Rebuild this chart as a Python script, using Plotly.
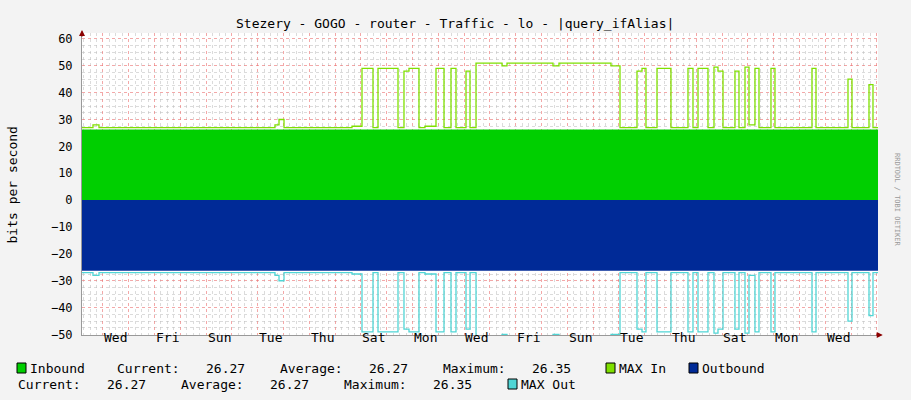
import plotly.graph_objects as go

# Day 0 = Wednesday (midnight); x in days
x_start, x_end = -0.81, 30.043
day_labels = ["Wed", "Fri", "Sun", "Tue", "Thu", "Sat", "Mon", "Wed",
              "Fri", "Sun", "Tue", "Thu", "Sat", "Mon", "Wed"]
label_pos = [0.5 + 2 * i for i in range(len(day_labels))]

# MAX In step changes (time in days, value held until next time)
max_t = [-0.81, -0.384, -0.151, 6.67, 6.826, 7.02, 9.655, 10.043, 10.469, 10.663,
         11.438, 11.67, 11.864, 12.252, 12.484, 12.911, 13.221, 13.492, 13.686,
         14.074, 14.229, 14.462, 15.47, 15.663, 17.446, 17.678, 19.694, 20.043,
         20.702, 20.896, 21.05, 21.477, 22.019, 22.678, 22.872, 23.066, 23.453,
         23.686, 23.841, 24.035, 24.5, 24.655, 24.888, 25.043, 25.275, 25.43,
         25.895, 26.05, 27.484, 27.64, 28.88, 29.035, 29.694, 29.849, 30.043]
max_in = [27, 28, 27, 28, 30, 27, 27.5, 49, 27, 49,
          27, 48, 49, 27, 27.5, 49, 27, 49, 27,
          48, 27, 51, 50, 51, 50, 51, 50, 27,
          48, 49, 27, 49, 27, 49, 27, 49, 27,
          49.5, 48, 27, 48, 27, 49.5, 28, 49, 27,
          49, 27, 49, 27, 45, 27, 43, 27, 27]

inbound_t = [-0.81, 30.043]
inbound = [26.3, 26.3]
outbound = [-v for v in inbound]
max_out = [-v for v in max_in]

mono = "DejaVu Sans Mono"
C_IN, C_MAXIN, C_OUT, C_MAXOUT = "#00CF00", "#7FE000", "#002A97", "#50D5D5"

fig = go.Figure()
fig.add_trace(go.Scatter(x=inbound_t, y=inbound, mode="lines", line=dict(width=0, shape="hv"),
                         fill="tozeroy", fillcolor=C_IN, hoverinfo="skip"))
fig.add_trace(go.Scatter(x=inbound_t, y=outbound, mode="lines", line=dict(width=0, shape="hv"),
                         fill="tozeroy", fillcolor=C_OUT, hoverinfo="skip"))
fig.add_trace(go.Scatter(x=max_t, y=max_in, mode="lines", line=dict(width=1.3, color=C_MAXIN, shape="hv")))
fig.add_trace(go.Scatter(x=max_t, y=max_out, mode="lines", line=dict(width=1.3, color=C_MAXOUT, shape="hv")))

fig.update_layout(
    width=911, height=400, showlegend=False,
    margin=dict(l=82, r=33, t=33, b=65),
    paper_bgcolor="#f3f3f3", plot_bgcolor="white",
    font=dict(family=mono, size=12, color="black"),
    xaxis=dict(range=[x_start, x_end], dtick=1, tick0=0, showticklabels=False, automargin=False,
               showgrid=True, gridcolor="rgba(235,110,110,0.6)", griddash="dot", gridwidth=1,
               minor=dict(dtick=0.25, tick0=0, showgrid=True, gridcolor="rgba(190,190,190,0.55)",
                          griddash="dot"),
               zeroline=False, showline=True, linecolor="#999", ticks=""),
    yaxis=dict(range=[-50.2, 62.2], dtick=10, tick0=0, showgrid=True, automargin=False,
               gridcolor="rgba(235,110,110,0.6)", griddash="dot",
               minor=dict(dtick=2.5, showgrid=True, gridcolor="rgba(190,190,190,0.55)", griddash="dot"),
               zeroline=False, showline=True, linecolor="#999", ticks="",
               tickfont=dict(family=mono, size=12), ticklabelstandoff=6),
)

def px(xp):  # pixel -> paper x
    return (xp - 82) / 796
def py(yp):
    return (335 - yp) / 302

fig.add_annotation(x=px(455), y=py(14), xref="paper", yref="paper", showarrow=False,
                   text="Stezery - GOGO - router - Traffic - lo - |query_ifAlias|",
                   font=dict(family=mono, size=13))
fig.add_annotation(x=px(12), y=py(185), xref="paper", yref="paper", showarrow=False, xshift=-10,
                   text="bits per second", textangle=-90, font=dict(family=mono, size=13))

for lab, pos in zip(day_labels, label_pos):
    fig.add_annotation(x=pos, y=py(347), yref="paper", text=lab, showarrow=False,
                       font=dict(family=mono, size=13))

# axis arrows
fig.add_annotation(x=1.006, y=0, xref="paper", yref="paper", ax=-8, ay=0, text="",
                   showarrow=True, arrowhead=2, arrowsize=1, arrowwidth=1.2, arrowcolor="#8b0000")
fig.add_annotation(x=0, y=1.01, xref="paper", yref="paper", ax=0, ay=8, text="",
                   showarrow=True, arrowhead=2, arrowsize=1, arrowwidth=1.2, arrowcolor="#8b0000")

fig.add_annotation(x=px(903), y=py(200), xref="paper", yref="paper", text="RRDTOOL / TOBI OETIKER",
                   showarrow=False, textangle=90, font=dict(family=mono, size=7, color="#999"))

legend_items = [
    (368, 30, "Inbound"), (368, 117, "Current:"), (368, 206, "26.27"), (368, 280, "Average:"),
    (368, 369, "26.27"), (368, 443, "Maximum:"), (368, 532, "26.35"), (368, 619, "MAX In"),
    (368, 702, "Outbound"),
    (384, 18, "Current:"), (384, 107, "26.27"), (384, 181, "Average:"), (384, 270, "26.27"),
    (384, 344, "Maximum:"), (384, 433, "26.35"), (384, 521, "MAX Out"),
]
for yp, xp, t in legend_items:
    fig.add_annotation(x=px(xp), y=py(yp), xref="paper", yref="paper", text=t, showarrow=False,
                       xanchor="left", yanchor="middle", xshift=-2, font=dict(family=mono, size=13))

swatches = [(368, 17, C_IN), (368, 606, C_MAXIN), (368, 689, C_OUT), (384, 508, C_MAXOUT)]
for yp, xp, c in swatches:
    fig.add_shape(type="rect", xref="paper", yref="paper", x0=px(xp), x1=px(xp + 9),
                  y0=py(yp + 5), y1=py(yp - 5), fillcolor=c, line=dict(color="black", width=1))

fig.write_html("out.html", config={"displayModeBar": False},
               post_script="document.body.style.margin='0';")
